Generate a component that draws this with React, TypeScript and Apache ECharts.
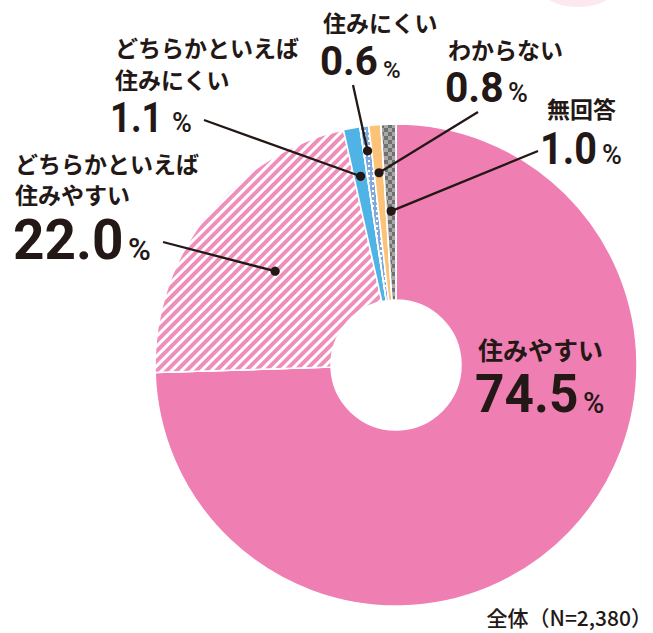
import React, { useEffect, useRef } from "react";
import * as echarts from "echarts";

// ---- data ----
const categories = [
  "住みやすい",
  "どちらかといえば住みやすい",
  "どちらかといえば住みにくい",
  "住みにくい",
  "わからない",
  "無回答",
];
const values = [74.5, 22.0, 1.1, 0.6, 0.8, 1.0];
const valueLabels = ["74.5", "22.0", "1.1", "0.6", "0.8", "1.0"];
const labelTexts = [
  ["住みやすい"],
  ["どちらかといえば", "住みやすい"],
  ["どちらかといえば", "住みにくい"],
  ["住みにくい"],
  ["わからない"],
  ["無回答"],
];
const totalNote = "全体（N=2,380）";

// ---- layout / style ----
const W = 653;
const H = 633;
const CX = 396;
const CY = 365;
const R_IN = 65;
const R_OUT = 241;
const INK = "#231815";
const JP = "'Noto Sans CJK JP', 'Noto Sans', sans-serif";
const NUM = "Roboto, 'Liberation Sans', sans-serif";

const PINK = "#ef7fb2";

// per label: text lines (x, yCenter, size), number (x, yCenter, size, scaleX), percent (x, yCenter, size), anchor, dot radius
const layouts = [
  { lines: [[478, 349, 25]], num: [475, 394, 53, 0.97], pct: [583, 403, 29], anchor: null, dotR: 0 },
  { lines: [[15, 163, 23], [15, 194, 23]], num: [13, 240, 56, 0.98], pct: [128, 249, 31], anchor: [163, 242], dotR: 153 },
  { lines: [[115, 47, 23], [115, 78.5, 23]], num: [110, 117.5, 43, 0.85], pct: [172, 123, 27], anchor: [204, 120], dotR: 192 },
  { lines: [[323, 22, 23]], num: [320, 61, 41, 0.98], pct: [383, 70, 24], anchor: [353, 85], dotR: 216 },
  { lines: [[448, 49, 23]], num: [445, 88, 42, 0.97], pct: [508, 93, 27], anchor: [478, 112], dotR: 193 },
  { lines: [[547, 108, 23]], num: [540, 149, 44, 0.9], pct: [602, 155, 27], anchor: [538, 151], dotR: 154 },
];

const itemStyles: any[] = [
  { color: PINK },
  {
    color: "#ffffff",
    decal: {
      symbol: "rect",
      symbolSize: 1,
      color: "#f08ebb",
      dashArrayX: [1, 0],
      dashArrayY: [4, 2.6],
      rotation: -Math.PI / 4,
    },
  },
  { color: "#4fb3e5" },
  {
    color: "#7fa8dc",
    decal: {
      symbol: "rect",
      symbolSize: 1,
      color: "#ffffff",
      dashArrayX: [2, 2],
      dashArrayY: [1.5, 3],
      rotation: 0,
    },
  },
  { color: "#fcc378" },
  {
    color: "#707070",
    decal: {
      symbol: "rect",
      symbolSize: 1,
      color: "#a9a9a9",
      dashArrayX: [
        [4, 4],
        [0, 4, 4, 0],
      ],
      dashArrayY: [4, 0],
      rotation: 0,
    },
  },
];

function buildGraphic() {
  const total = values.reduce((a, b) => a + b, 0);
  const els: any[] = [];
  els.push({
    type: "ellipse",
    shape: { cx: 578, cy: -30, rx: 50, ry: 37 },
    style: { fill: "#fde8f1" },
    z: 0,
    silent: true,
  });
  let cum = 0;
  values.forEach((v, i) => {
    const mid = (cum + v / 2) / total;
    cum += v;
    const L = layouts[i];
    const ang = ((90 - 360 * mid) * Math.PI) / 180;
    if (L.anchor) {
      const dx = CX + L.dotR * Math.cos(ang);
      const dy = CY - L.dotR * Math.sin(ang);
      els.push({
        type: "line",
        shape: { x1: L.anchor[0], y1: L.anchor[1], x2: dx, y2: dy },
        style: { stroke: INK, lineWidth: 2.3 },
        z: 100,
      });
      els.push({
        type: "circle",
        shape: { cx: dx, cy: dy, r: 4.6 },
        style: { fill: INK },
        z: 101,
      });
    }
    labelTexts[i].forEach((t, k) => {
      const [x, y, s] = L.lines[k];
      els.push({
        type: "text",
        x,
        y,
        style: {
          text: t,
          fill: INK,
          font: `bold ${s}px ${JP}`,
          textAlign: "left",
          textVerticalAlign: "middle",
        },
        z: 102,
      });
    });
    els.push({
      type: "text",
      x: L.num[0],
      y: L.num[1],
      scaleX: L.num[3],
      style: {
        text: valueLabels[i],
        fill: INK,
        font: `bold ${L.num[2]}px ${NUM}`,
        textAlign: "left",
        textVerticalAlign: "middle",
      },
      z: 102,
    });
    els.push({
      type: "text",
      x: L.pct[0],
      y: L.pct[1],
      style: {
        text: "%",
        fill: INK,
        font: `500 ${L.pct[2]}px ${NUM}`,
        textAlign: "left",
        textVerticalAlign: "middle",
      },
      z: 102,
    });
  });
  els.push({
    type: "text",
    x: 652,
    y: 617,
    style: {
      text: totalNote,
      fill: INK,
      font: `500 21px ${JP}`,
      textAlign: "right",
      textVerticalAlign: "middle",
    },
    z: 102,
  });
  return els;
}

export default function App() {
  const ref = useRef<HTMLDivElement>(null);
  useEffect(() => {
    if (!ref.current) return;
    const chart = echarts.init(ref.current, undefined, { renderer: "svg" });
    chart.setOption({
      animation: false,
      backgroundColor: "#ffffff",
      series: [
        {
          type: "pie",
          center: [CX, CY],
          radius: [R_IN, R_OUT],
          startAngle: 90,
          clockwise: true,
          silent: true,
          label: { show: false },
          labelLine: { show: false },
          emphasis: { disabled: true },
          itemStyle: { borderColor: "#ffffff", borderWidth: 1.5 },
          data: values.map((v, i) => ({
            name: categories[i],
            value: v,
            itemStyle: itemStyles[i],
          })),
        },
      ],
      graphic: buildGraphic(),
    });
    return () => chart.dispose();
  }, []);
  return (
    <div
      ref={ref}
      style={{ position: "fixed", left: 0, top: 0, width: W, height: H }}
    />
  );
}
